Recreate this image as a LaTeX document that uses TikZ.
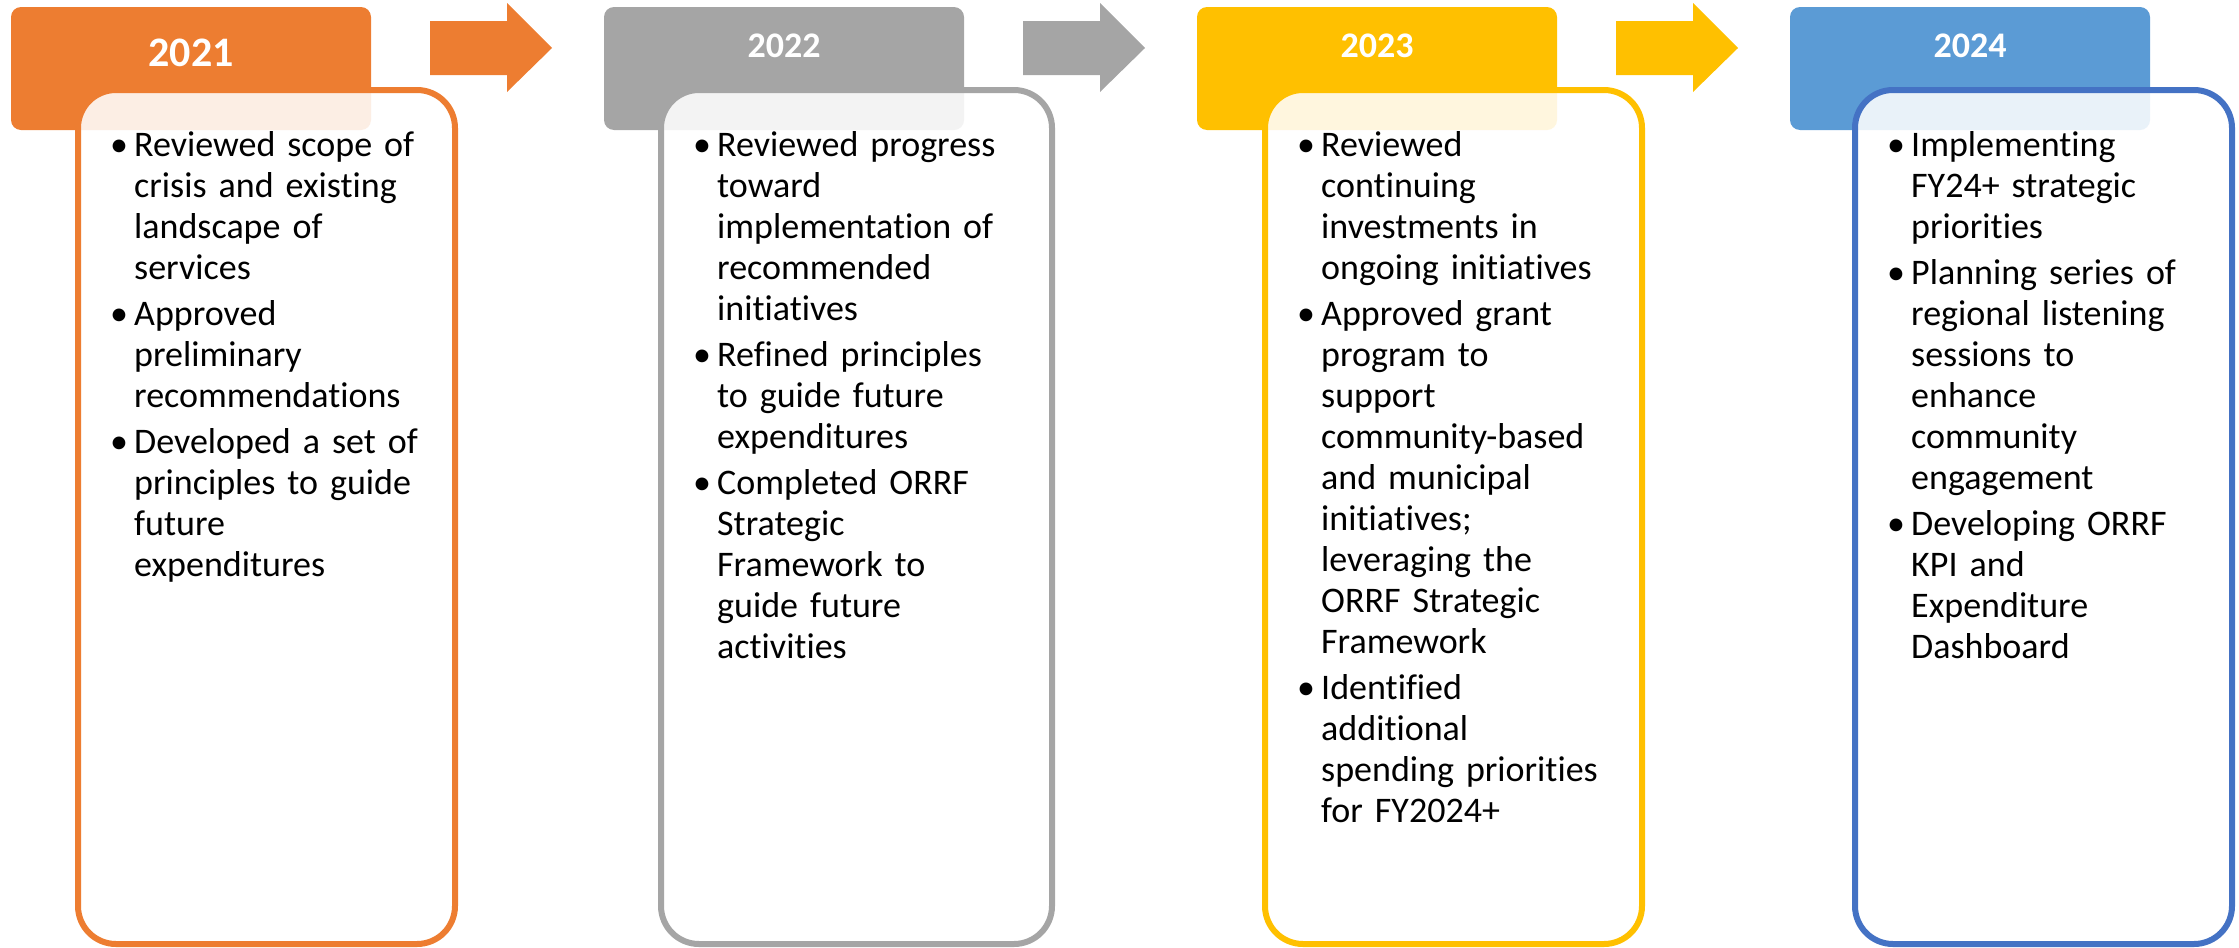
\documentclass[tikz,border=0pt]{standalone}
\usepackage{fontspec}
\setmainfont{Carlito}[Ligatures=NoCommon]
\usetikzlibrary{positioning}
\definecolor{Tangerine}{HTML}{ED7D31}
\definecolor{Ash}{HTML}{A5A5A5}
\definecolor{Gold}{HTML}{FFC000}
\definecolor{SkyBlue}{HTML}{5B9BD5}
\definecolor{SteelBlue}{HTML}{4472C4}
\newcommand{\bitem}[1]{\par\begingroup\let\\\newline\hangindent=24pt\hangafter=1%
  \noindent\makebox[24pt][l]{\strut\textbullet}#1\par\endgroup\vspace{5pt}}

\begin{document}
\begin{tikzpicture}[x=1pt,y=-1pt,
  hd/.style={rectangle,rounded corners=10pt,inner sep=0pt,outer sep=0pt,minimum width=360pt,minimum height=123pt},
  yr/.style={anchor=base,text=white,font=\bfseries\fontsize{36}{40}\selectfont},
  bx/.style={rectangle,rounded corners=38pt,line width=6pt,fill=white,fill opacity=0.87,inner sep=0pt,minimum height=854pt},
  tx/.style={anchor=north west,inner sep=0pt,text width=340pt,align=left,font=\fontsize{36}{41}\selectfont}]
\useasboundingbox (0,0) rectangle (2239,948);

% ===== year headers =====
\foreach \i/\x/\c in {1/191/Tangerine,2/784/Ash,3/1377/Gold,4/1970/SkyBlue}
  \node[hd,fill=\c] (h\i) at (\x,68.5) {};
\node[yr,font=\bfseries\fontsize{42}{46}\selectfont] (y1) at ([yshift=-59pt]h1.north) {2021};
\node[yr] (y2) at ([yshift=-50pt]h2.north) {2022};
\node[yr] (y3) at ([yshift=-50pt]h3.north) {2023};
\node[yr] (y4) at ([yshift=-50pt]h4.north) {2024};

% ===== block arrows between years =====
\foreach \x/\c in {430/Tangerine,1023/Ash,1616/Gold}
  \fill[\c] (\x,21) -- ++(77,0) -- ++(0,-18) -- ++(45,45) -- ++(-45,44) -- ++(0,-17) -- ++(-77,0) -- cycle;

% ===== boxes =====
\node[bx,draw=Tangerine,minimum width=377pt] (b1) at (266.5,517) {};
\node[bx,draw=Ash,minimum width=391pt] (b2) at (856.5,517) {};
\node[bx,draw=Gold,minimum width=377pt] (b3) at (1453.5,517) {};
\node[bx,draw=SteelBlue,minimum width=377pt] (b4) at (2043.5,517) {};

% ===== bullet texts =====
\node[tx] (t1) at ([xshift=35pt,yshift=-28.3pt]b1.north west) {%
  \bitem{Reviewed scope of\\crisis and existing\\landscape of\\services}
  \bitem{Approved\\preliminary\\recommendations}
  \bitem{Developed a set of\\principles to guide\\future\\expenditures}};
\node[tx] (t2) at ([xshift=35pt,yshift=-28.3pt]b2.north west) {%
  \bitem{Reviewed progress\\toward\\implementation of\\recommended\\initiatives}
  \bitem{Refined principles\\to guide future\\expenditures}
  \bitem{Completed ORRF\\Strategic\\Framework to\\guide future\\activities}};
\node[tx] (t3) at ([xshift=35pt,yshift=-28.3pt]b3.north west) {%
  \bitem{Reviewed\\continuing\\investments in\\ongoing initiatives}
  \bitem{Approved grant\\program to\\support\\community-based\\and municipal\\initiatives;\\leveraging the\\ORRF Strategic\\Framework}
  \bitem{Identified\\additional\\spending priorities\\for FY2024+}};
\node[tx] (t4) at ([xshift=35pt,yshift=-28.3pt]b4.north west) {%
  \bitem{Implementing\\FY24+ strategic\\priorities}
  \bitem{Planning series of\\regional listening\\sessions to\\enhance\\community\\engagement}
  \bitem{Developing ORRF\\KPI and\\Expenditure\\Dashboard}};
\end{tikzpicture}
\end{document}
